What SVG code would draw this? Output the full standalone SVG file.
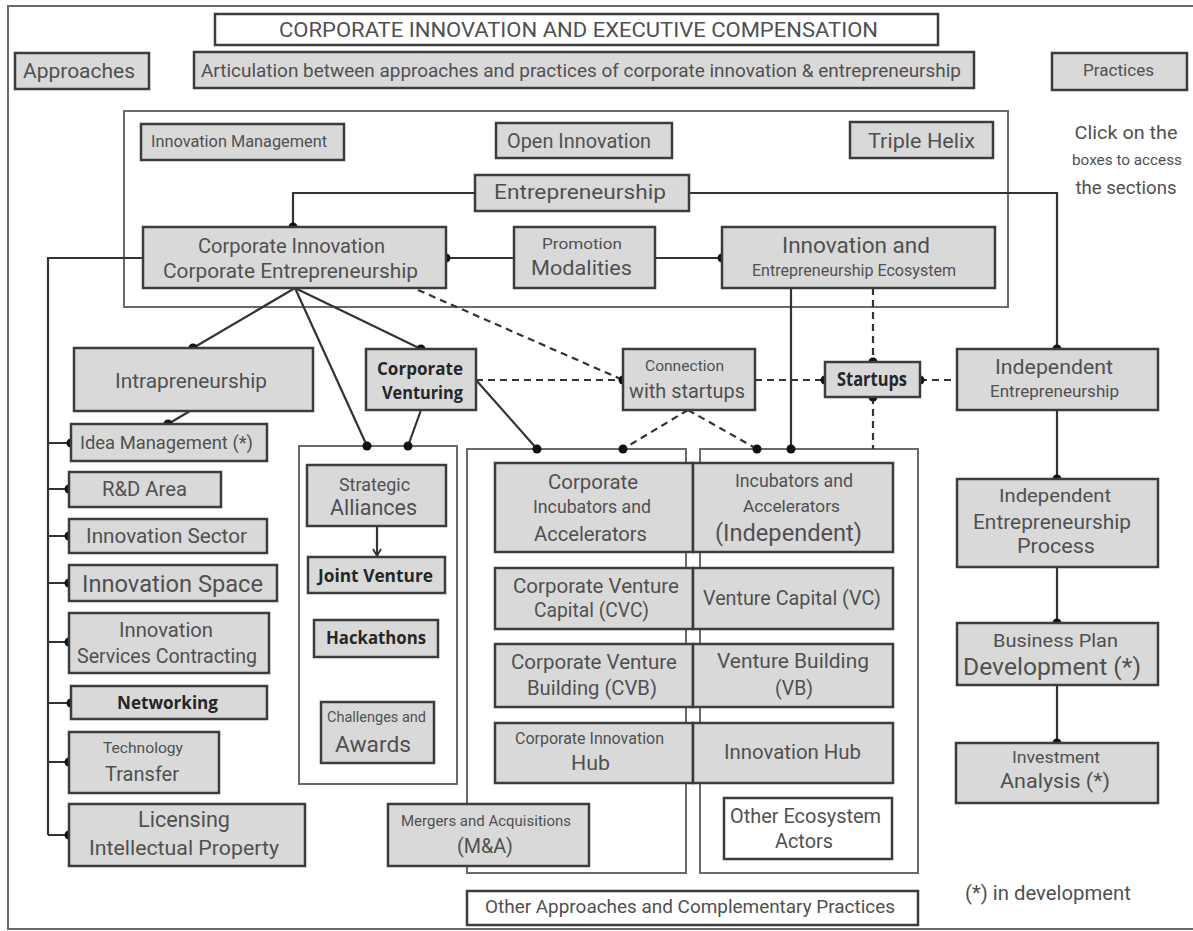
<svg xmlns="http://www.w3.org/2000/svg" width="1193" height="931" viewBox="0 0 1193 931">
<style>
.b{fill:#d9d9d9;stroke:#3c3c3c;stroke-width:2.5}
.w{fill:#fff;stroke:#3c3c3c;stroke-width:2.5}
.fr{fill:none;stroke:#6a6a6a;stroke-width:2}
.t{font-family:Roboto,"Noto Sans",sans-serif;fill:#505050;text-anchor:middle}
.bt{font-family:"Open Sans","Noto Sans",sans-serif;font-weight:bold;fill:#262626;text-anchor:middle}
.c{fill:none;stroke:#333;stroke-width:2.2}
.d{stroke-dasharray:7 5}
.dot{fill:#111}
</style>
<defs>
<marker id="ah" markerWidth="10" markerHeight="10" refX="8" refY="5" orient="auto" markerUnits="userSpaceOnUse">
<path d="M1,1 L8,5 L1,9" fill="none" stroke="#333" stroke-width="1.8"/>
</marker>
</defs>
<rect x="0" y="0" width="1193" height="931" fill="#fff"/>
<rect x="8" y="6" width="1200" height="923" class="fr" stroke="#555"/>
<rect x="124" y="111" width="884" height="196" class="fr"/>
<rect x="299" y="446" width="158" height="338" class="fr"/>
<rect x="467" y="449" width="219" height="424" class="fr"/>
<rect x="700" y="449" width="218" height="424" class="fr"/>

<g id="connectors">
<path class="c" d="M475,193 H293 V227"/>
<path class="c" d="M689,193 H1057 V349"/>
<path class="c" d="M446,258 H514"/>
<path class="c" d="M655,258 H722"/>
<path class="c" stroke-width="3" d="M143,258 H48 V835"/>
<path class="c" d="M48,443 H71 M48,489 H69 M48,536 H69 M48,583 H69 M48,642 H69 M48,703 H71 M48,762 H69 M48,835 H69"/>
<path class="c" d="M295,288 L193,348 M295,288 L421,349 M295,288 L367,446"/>
<path class="c" d="M421,410 L408,446"/>
<path class="c" d="M190,411 L168,424"/>
<path class="c" d="M476,380 L537,449"/>
<path class="c" d="M377,526 V556" marker-end="url(#ah)"/>
<path class="c d" d="M418,290 L623,380"/>
<path class="c d" d="M476,380 H623"/>
<path class="c d" d="M755,380 H825"/>
<path class="c d" d="M920,380 H957"/>
<path class="c d" d="M873,288 V362"/>
<path class="c d" d="M873,397 V449"/>
<path class="c" d="M791,288 V449"/>
<path class="c d" d="M688,410 L623,449 M688,410 L757,449"/>
<path class="c" d="M1057,410 V479"/>
<path class="c" d="M1057,567 V623"/>
<path class="c" d="M1057,685 V743"/>
<g class="dot">
<circle cx="293" cy="227" r="4.5"/><circle cx="1057" cy="349" r="4.5"/>
<circle cx="446" cy="258" r="4.5"/><circle cx="722" cy="258" r="4.5"/>
<circle cx="71" cy="443" r="4.5"/><circle cx="69" cy="489" r="4.5"/><circle cx="69" cy="536" r="4.5"/><circle cx="69" cy="583" r="4.5"/>
<circle cx="69" cy="642" r="4.5"/><circle cx="71" cy="703" r="4.5"/><circle cx="69" cy="762" r="4.5"/><circle cx="69" cy="835" r="4.5"/>
<circle cx="193" cy="348" r="4.5"/><circle cx="421" cy="349" r="4.5"/><circle cx="367" cy="446" r="4.5"/><circle cx="408" cy="446" r="4.5"/>
<circle cx="168" cy="424" r="4.5"/><circle cx="537" cy="449" r="4.5"/><circle cx="623" cy="380" r="4.5"/>
<circle cx="825" cy="380" r="4.5"/><circle cx="920" cy="380" r="4.5"/><circle cx="873" cy="362" r="4.5"/><circle cx="873" cy="397" r="4.5"/>
<circle cx="791" cy="449" r="4.5"/><circle cx="623" cy="449" r="4.5"/><circle cx="757" cy="449" r="4.5"/>
<circle cx="1057" cy="479" r="4.5"/><circle cx="1057" cy="623" r="4.5"/><circle cx="1057" cy="743" r="4.5"/>
</g>
</g>

<g id="title"><rect class="w" x="215" y="14" width="723" height="31"/><text class="t" x="578.5" y="37" font-size="20" textLength="599" lengthAdjust="spacingAndGlyphs">CORPORATE INNOVATION AND EXECUTIVE COMPENSATION</text></g>
<g id="approaches"><rect class="b" x="15" y="53" width="134" height="36"/><text class="t" x="79" y="78" font-size="21" textLength="112" lengthAdjust="spacingAndGlyphs">Approaches</text></g>
<g id="articulation"><rect class="b" x="194" y="52" width="780" height="36"/><text class="t" x="581" y="77" font-size="19" textLength="760" lengthAdjust="spacingAndGlyphs">Articulation between approaches and practices of corporate innovation &amp; entrepreneurship</text></g>
<g id="practices"><rect class="b" x="1052" y="53" width="135" height="37"/><text class="t" x="1118.5" y="76" font-size="17" textLength="71" lengthAdjust="spacingAndGlyphs">Practices</text></g>
<g id="click-note"><text class="t" x="1126" y="139" font-size="18" textLength="103" lengthAdjust="spacingAndGlyphs">Click on the</text><text class="t" x="1127" y="165" font-size="14" textLength="110" lengthAdjust="spacingAndGlyphs">boxes to access</text><text class="t" x="1126" y="194" font-size="18" textLength="101" lengthAdjust="spacingAndGlyphs">the sections</text></g>
<g id="innovation-management"><rect class="b" x="141" y="124" width="203" height="36"/><text class="t" x="239" y="147" font-size="16" textLength="176" lengthAdjust="spacingAndGlyphs">Innovation Management</text></g>
<g id="open-innovation"><rect class="b" x="496" y="123" width="176" height="35"/><text class="t" x="579" y="148" font-size="20" textLength="144" lengthAdjust="spacingAndGlyphs">Open Innovation</text></g>
<g id="triple-helix"><rect class="b" x="850" y="122" width="143" height="36"/><text class="t" x="921.5" y="148" font-size="21" textLength="107" lengthAdjust="spacingAndGlyphs">Triple Helix</text></g>
<g id="entrepreneurship"><rect class="b" x="475" y="175" width="214" height="36"/><text class="t" x="580" y="199" font-size="21" textLength="172" lengthAdjust="spacingAndGlyphs">Entrepreneurship</text></g>
<g id="corporate-innovation"><rect class="b" x="143" y="227" width="303" height="61"/><text class="t" x="291.5" y="253" font-size="20" textLength="187" lengthAdjust="spacingAndGlyphs">Corporate Innovation</text><text class="t" x="290.5" y="278" font-size="20" textLength="255" lengthAdjust="spacingAndGlyphs">Corporate Entrepreneurship</text></g>
<g id="promotion-modalities"><rect class="b" x="514" y="227" width="141" height="61"/><text class="t" x="582" y="249" font-size="15" textLength="80" lengthAdjust="spacingAndGlyphs">Promotion</text><text class="t" x="581.5" y="275" font-size="21" textLength="101" lengthAdjust="spacingAndGlyphs">Modalities</text></g>
<g id="ecosystem"><rect class="b" x="722" y="227" width="273" height="61"/><text class="t" x="856" y="253" font-size="22" textLength="148" lengthAdjust="spacingAndGlyphs">Innovation and</text><text class="t" x="854" y="276" font-size="16" textLength="204" lengthAdjust="spacingAndGlyphs">Entrepreneurship Ecosystem</text></g>
<g id="intrapreneurship"><rect class="b" x="74" y="348" width="239" height="63"/><text class="t" x="191" y="388" font-size="21" textLength="152" lengthAdjust="spacingAndGlyphs">Intrapreneurship</text></g>
<g id="corporate-venturing"><rect class="b" x="366" y="349" width="110" height="61"/><text class="bt" x="420" y="375" font-size="18" textLength="86" lengthAdjust="spacingAndGlyphs">Corporate</text><text class="bt" x="422.5" y="399" font-size="18" textLength="81" lengthAdjust="spacingAndGlyphs">Venturing</text></g>
<g id="connection-startups"><rect class="b" x="623" y="349" width="132" height="61"/><text class="t" x="684.5" y="371" font-size="15" textLength="79" lengthAdjust="spacingAndGlyphs">Connection</text><text class="t" x="687" y="398" font-size="20" textLength="116" lengthAdjust="spacingAndGlyphs">with startups</text></g>
<g id="startups"><rect class="b" x="825" y="362" width="95" height="35"/><text class="bt" x="872" y="386" font-size="19" textLength="70" lengthAdjust="spacingAndGlyphs">Startups</text></g>
<g id="independent-entrepreneurship"><rect class="b" x="957" y="349" width="201" height="61"/><text class="t" x="1054" y="374" font-size="21" textLength="118" lengthAdjust="spacingAndGlyphs">Independent</text><text class="t" x="1054.5" y="397" font-size="16" textLength="129" lengthAdjust="spacingAndGlyphs">Entrepreneurship</text></g>
<g id="idea-management"><rect class="b" x="71" y="424" width="196" height="37"/><text class="t" x="166.5" y="449" font-size="18" textLength="173" lengthAdjust="spacingAndGlyphs">Idea Management (*)</text></g>
<g id="rd-area"><rect class="b" x="69" y="472" width="152" height="35"/><text class="t" x="144.5" y="496" font-size="20" textLength="85" lengthAdjust="spacingAndGlyphs">R&amp;D Area</text></g>
<g id="innovation-sector"><rect class="b" x="69" y="519" width="198" height="34"/><text class="t" x="166.5" y="543" font-size="20" textLength="161" lengthAdjust="spacingAndGlyphs">Innovation Sector</text></g>
<g id="innovation-space"><rect class="b" x="69" y="565" width="208" height="36"/><text class="t" x="172.5" y="592" font-size="24" textLength="181" lengthAdjust="spacingAndGlyphs">Innovation Space</text></g>
<g id="services-contracting"><rect class="b" x="69" y="613" width="200" height="60"/><text class="t" x="166" y="637" font-size="20" textLength="94" lengthAdjust="spacingAndGlyphs">Innovation</text><text class="t" x="167" y="663" font-size="20" textLength="180" lengthAdjust="spacingAndGlyphs">Services Contracting</text></g>
<g id="networking"><rect class="b" x="71" y="686" width="196" height="33"/><text class="bt" x="167.5" y="709" font-size="18" textLength="101" lengthAdjust="spacingAndGlyphs">Networking</text></g>
<g id="technology-transfer"><rect class="b" x="69" y="732" width="150" height="61"/><text class="t" x="143" y="753" font-size="15" textLength="80" lengthAdjust="spacingAndGlyphs">Technology</text><text class="t" x="142" y="781" font-size="20" textLength="74" lengthAdjust="spacingAndGlyphs">Transfer</text></g>
<g id="licensing"><rect class="b" x="69" y="804" width="236" height="62"/><text class="t" x="184" y="827" font-size="22" textLength="92" lengthAdjust="spacingAndGlyphs">Licensing</text><text class="t" x="184" y="855" font-size="21" textLength="190" lengthAdjust="spacingAndGlyphs">Intellectual Property</text></g>
<g id="strategic-alliances"><rect class="b" x="307" y="465" width="139" height="61"/><text class="t" x="374.5" y="491" font-size="18" textLength="71" lengthAdjust="spacingAndGlyphs">Strategic</text><text class="t" x="373.5" y="515" font-size="22" textLength="87" lengthAdjust="spacingAndGlyphs">Alliances</text></g>
<g id="joint-venture"><rect class="b" x="308" y="557" width="137" height="36"/><text class="bt" x="375.5" y="582" font-size="18" textLength="115" lengthAdjust="spacingAndGlyphs">Joint Venture</text></g>
<g id="hackathons"><rect class="b" x="314" y="620" width="124" height="37"/><text class="bt" x="376" y="644" font-size="18" textLength="100" lengthAdjust="spacingAndGlyphs">Hackathons</text></g>
<g id="challenges-awards"><rect class="b" x="321" y="702" width="113" height="61"/><text class="t" x="376.5" y="722" font-size="14" textLength="99" lengthAdjust="spacingAndGlyphs">Challenges and</text><text class="t" x="373" y="752" font-size="22" textLength="76" lengthAdjust="spacingAndGlyphs">Awards</text></g>
<g id="corporate-incubators"><rect class="b" x="495" y="463" width="198" height="89"/><text class="t" x="593" y="489" font-size="20" textLength="90" lengthAdjust="spacingAndGlyphs">Corporate</text><text class="t" x="592" y="513" font-size="18" textLength="118" lengthAdjust="spacingAndGlyphs">Incubators and</text><text class="t" x="590.5" y="541" font-size="20" textLength="113" lengthAdjust="spacingAndGlyphs">Accelerators</text></g>
<g id="independent-incubators"><rect class="b" x="693" y="463" width="200" height="89"/><text class="t" x="794" y="487" font-size="18" textLength="118" lengthAdjust="spacingAndGlyphs">Incubators and</text><text class="t" x="791.5" y="512" font-size="17" textLength="97" lengthAdjust="spacingAndGlyphs">Accelerators</text><text class="t" x="788.5" y="541" font-size="23" textLength="147" lengthAdjust="spacingAndGlyphs">(Independent)</text></g>
<g id="cvc"><rect class="b" x="495" y="568" width="198" height="61"/><text class="t" x="596" y="593" font-size="20" textLength="166" lengthAdjust="spacingAndGlyphs">Corporate Venture</text><text class="t" x="591.5" y="617" font-size="20" textLength="115" lengthAdjust="spacingAndGlyphs">Capital (CVC)</text></g>
<g id="vc"><rect class="b" x="693" y="568" width="200" height="61"/><text class="t" x="792" y="605" font-size="20" textLength="178" lengthAdjust="spacingAndGlyphs">Venture Capital (VC)</text></g>
<g id="cvb"><rect class="b" x="495" y="644" width="198" height="63"/><text class="t" x="594" y="669" font-size="20" textLength="166" lengthAdjust="spacingAndGlyphs">Corporate Venture</text><text class="t" x="592" y="695" font-size="20" textLength="130" lengthAdjust="spacingAndGlyphs">Building (CVB)</text></g>
<g id="vb"><rect class="b" x="693" y="644" width="200" height="63"/><text class="t" x="793" y="668" font-size="20" textLength="152" lengthAdjust="spacingAndGlyphs">Venture Building</text><text class="t" x="794" y="695" font-size="20" textLength="38" lengthAdjust="spacingAndGlyphs">(VB)</text></g>
<g id="corporate-innovation-hub"><rect class="b" x="495" y="723" width="198" height="60"/><text class="t" x="589.5" y="744" font-size="16" textLength="149" lengthAdjust="spacingAndGlyphs">Corporate Innovation</text><text class="t" x="590.5" y="770" font-size="21" textLength="39" lengthAdjust="spacingAndGlyphs">Hub</text></g>
<g id="innovation-hub"><rect class="b" x="693" y="723" width="200" height="60"/><text class="t" x="792.5" y="759" font-size="20" textLength="137" lengthAdjust="spacingAndGlyphs">Innovation Hub</text></g>
<g id="other-ecosystem-actors"><rect class="w" x="724" y="798" width="168" height="61"/><text class="t" x="805.5" y="823" font-size="20" textLength="151" lengthAdjust="spacingAndGlyphs">Other Ecosystem</text><text class="t" x="804" y="848" font-size="20" textLength="58" lengthAdjust="spacingAndGlyphs">Actors</text></g>
<g id="mergers-acquisitions"><rect class="b" x="388" y="804" width="201" height="62"/><text class="t" x="486" y="826" font-size="15" textLength="170" lengthAdjust="spacingAndGlyphs">Mergers and Acquisitions</text><text class="t" x="485" y="853" font-size="20" textLength="56" lengthAdjust="spacingAndGlyphs">(M&amp;A)</text></g>
<g id="other-approaches"><rect class="w" x="467" y="891" width="451" height="34"/><text class="t" x="690" y="913" font-size="19" textLength="410" lengthAdjust="spacingAndGlyphs">Other Approaches and Complementary Practices</text></g>
<g id="iep"><rect class="b" x="957" y="479" width="201" height="88"/><text class="t" x="1055" y="502" font-size="18" textLength="112" lengthAdjust="spacingAndGlyphs">Independent</text><text class="t" x="1052" y="529" font-size="21" textLength="158" lengthAdjust="spacingAndGlyphs">Entrepreneurship</text><text class="t" x="1056" y="553" font-size="21" textLength="78" lengthAdjust="spacingAndGlyphs">Process</text></g>
<g id="business-plan"><rect class="b" x="957" y="623" width="201" height="62"/><text class="t" x="1055.5" y="647" font-size="19" textLength="125" lengthAdjust="spacingAndGlyphs">Business Plan</text><text class="t" x="1052" y="675" font-size="24" textLength="178" lengthAdjust="spacingAndGlyphs">Development (*)</text></g>
<g id="investment-analysis"><rect class="b" x="956" y="743" width="202" height="60"/><text class="t" x="1056" y="763" font-size="16" textLength="88" lengthAdjust="spacingAndGlyphs">Investment</text><text class="t" x="1055" y="788" font-size="21" textLength="110" lengthAdjust="spacingAndGlyphs">Analysis (*)</text></g>
<g id="legend"><text class="t" x="1048" y="900" font-size="20" textLength="166" lengthAdjust="spacingAndGlyphs">(*) in development</text></g>
</svg>
